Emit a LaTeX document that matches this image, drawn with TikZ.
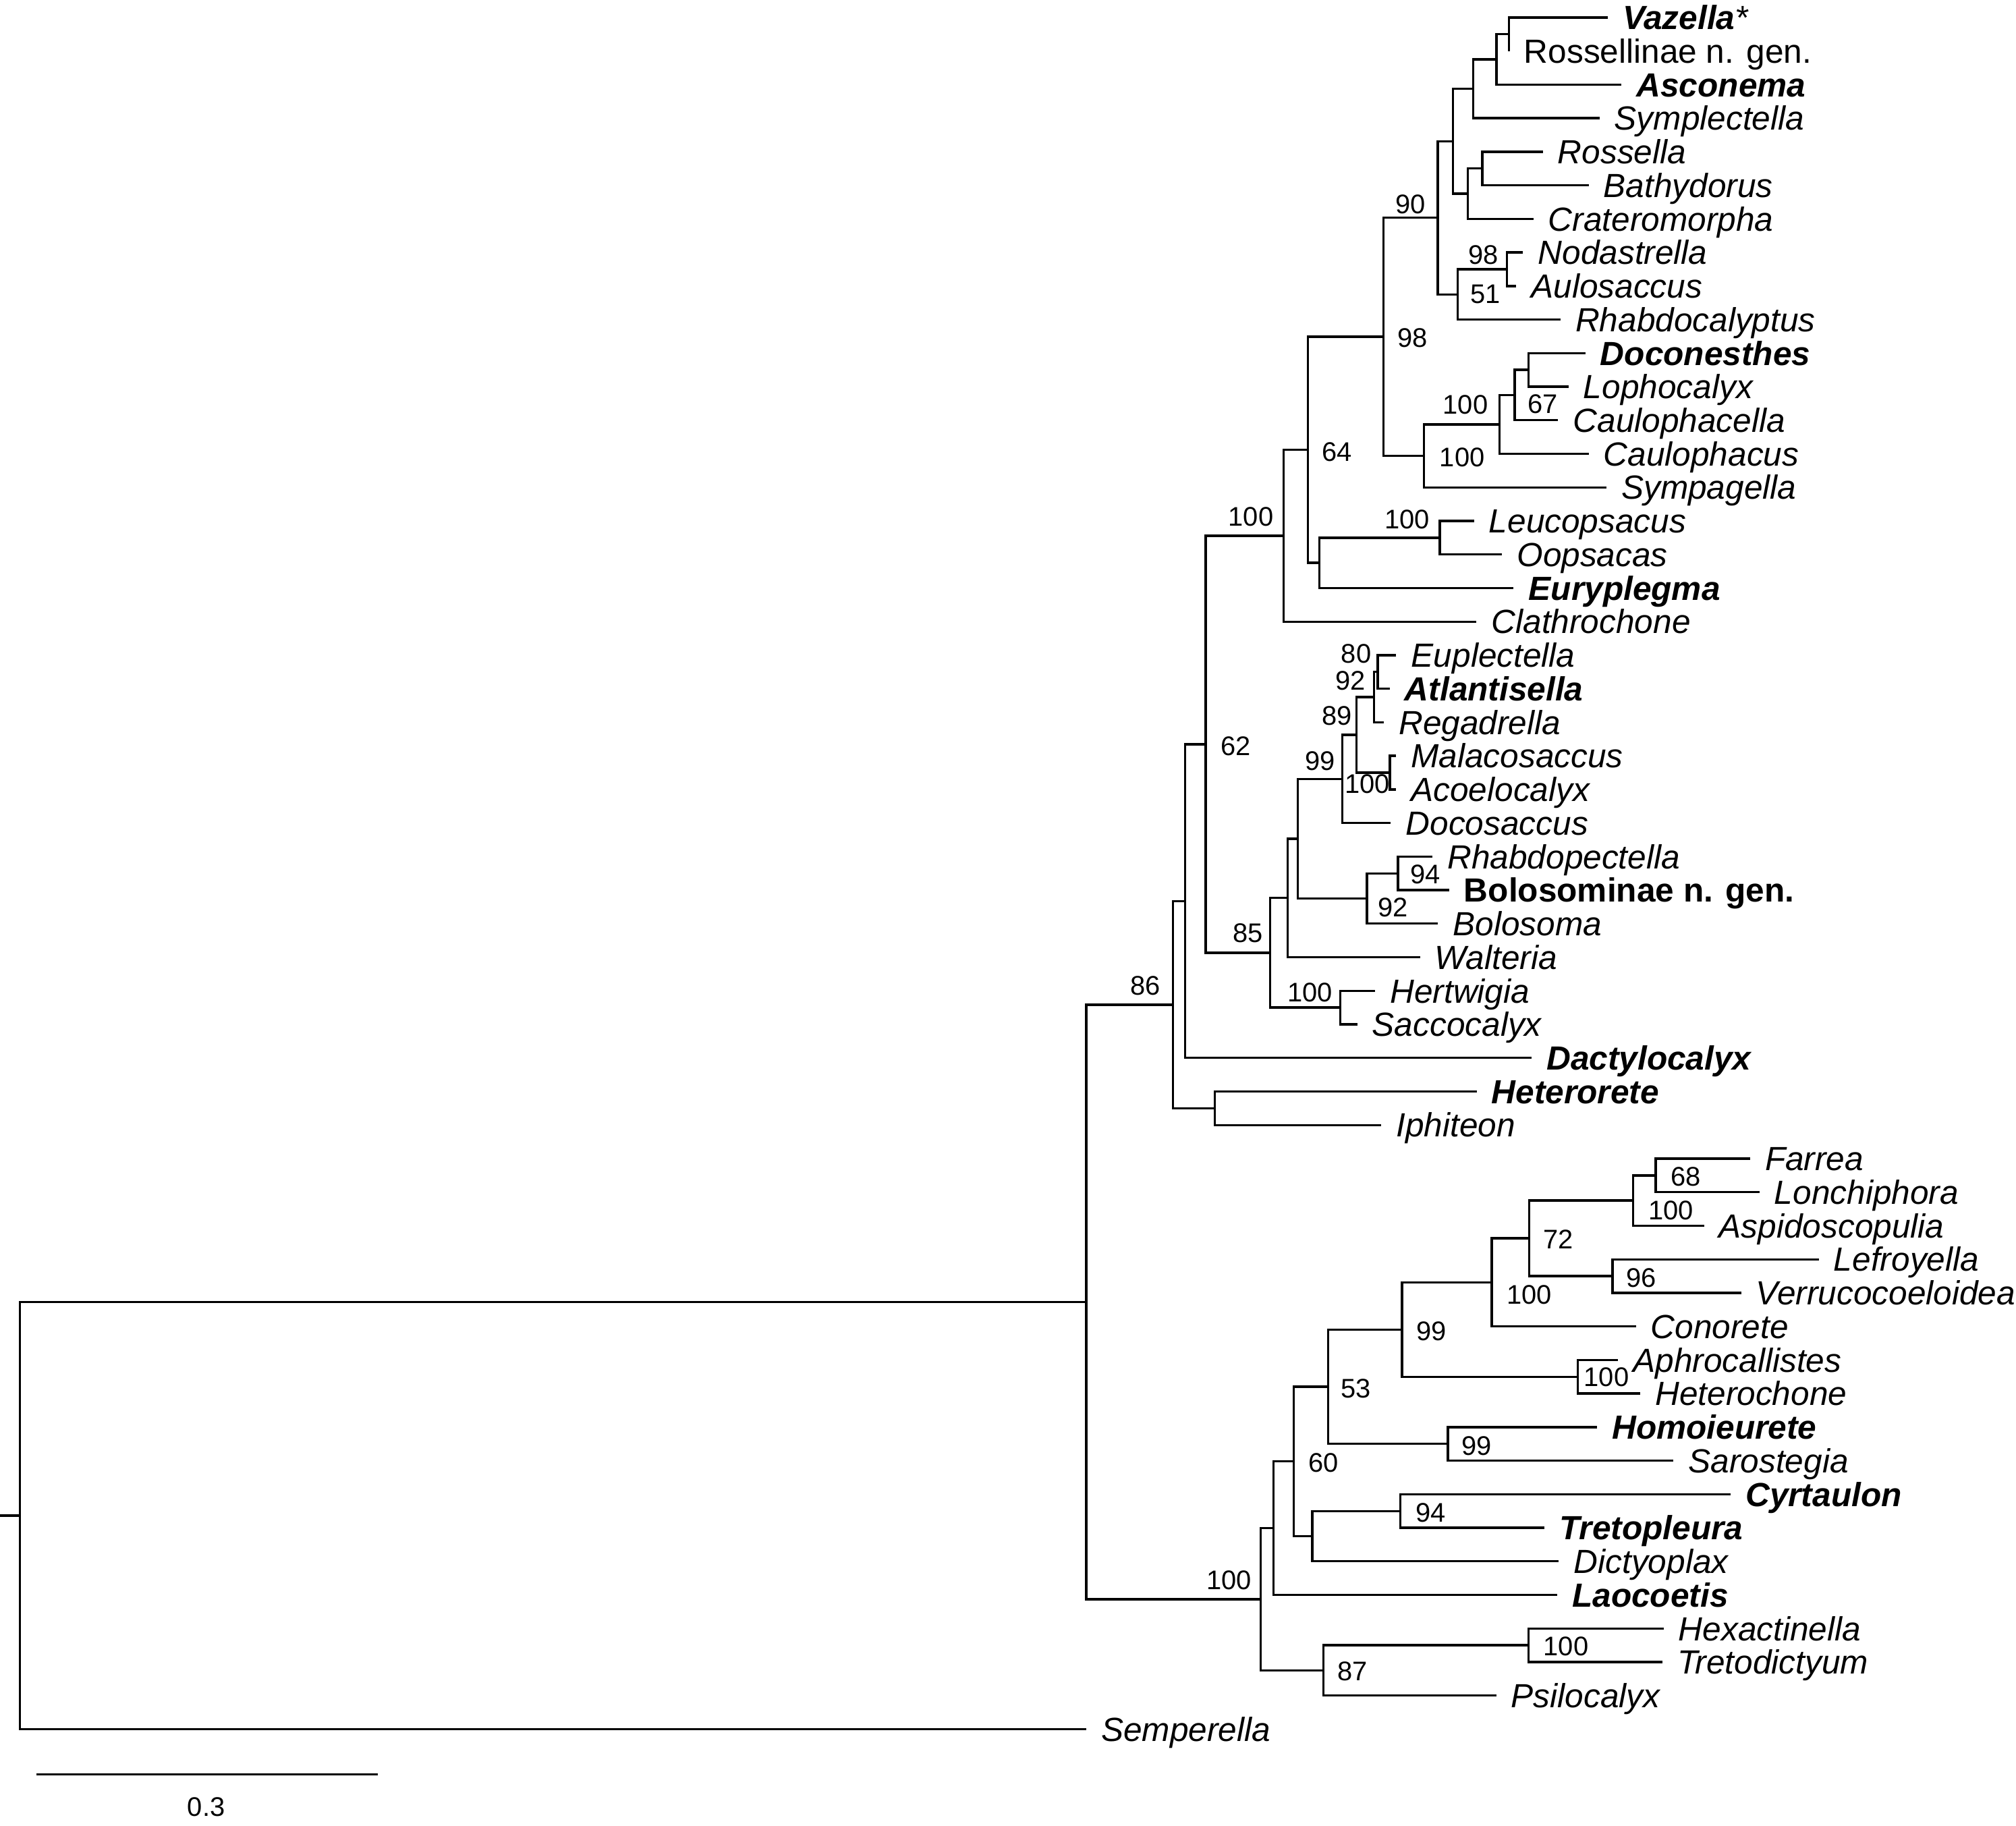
\documentclass[tikz,border=0pt]{standalone}
\usepackage{fontspec}
\setmainfont{Liberation Sans}
\usepackage{tikz}
\usetikzlibrary{positioning}

\begin{document}
\begin{tikzpicture}[
  x=0.01cm, y=-0.01cm,
  branch/.style={line width=0.5pt, line join=miter},
  tip/.style={inner sep=0pt, font=\fontsize{7.4}{8}\selectfont\itshape, text height=1.86mm, text depth=0pt},
  boot/.style={inner sep=0pt, font=\fontsize{5.95}{7}\selectfont, text height=1.5mm, text depth=0pt}
]
  \useasboundingbox (0,0) rectangle (1568,1420);

  % Tips
  \coordinate (vazella) at (1250.4,13.6);
  \coordinate (rossellinae) at (1173.7,39.7);
  \coordinate (asconema) at (1261.1,65.8);
  \coordinate (symplectella) at (1244.0,91.9);
  \coordinate (rossella) at (1199.9,118.0);
  \coordinate (bathydorus) at (1235.6,144.1);
  \coordinate (crateromorpha) at (1192.6,170.2);
  \coordinate (nodastrella) at (1184.6,196.3);
  \coordinate (aulosaccus) at (1179.2,222.4);
  \coordinate (rhabdocalyptus) at (1213.7,248.5);
  \coordinate (doconesthes) at (1233.0,274.6);
  \coordinate (lophocalyx) at (1219.9,300.7);
  \coordinate (caulophacella) at (1211.9,326.8);
  \coordinate (caulophacus) at (1235.6,352.9);
  \coordinate (sympagella) at (1249.4,379.0);
  \coordinate (leucopsacus) at (1146.4,405.1);
  \coordinate (oopsacas) at (1168.2,431.2);
  \coordinate (euryplegma) at (1177.3,457.3);
  \coordinate (clathrochone) at (1148.4,483.4);
  \coordinate (euplectella) at (1086.0,509.5);
  \coordinate (atlantisella) at (1080.8,535.6);
  \coordinate (regadrella) at (1076.3,561.7);
  \coordinate (malacosaccus) at (1085.8,587.8);
  \coordinate (acoelocalyx) at (1085.8,613.9);
  \coordinate (docosaccus) at (1081.8,640.0);
  \coordinate (rhabdopectella) at (1114.1,666.1);
  \coordinate (bolosominae) at (1127.0,692.2);
  \coordinate (bolosoma) at (1118.4,718.3);
  \coordinate (walteria) at (1104.4,744.4);
  \coordinate (hertwigia) at (1069.5,770.5);
  \coordinate (saccocalyx) at (1055.6,796.6);
  \coordinate (dactylocalyx) at (1191.2,822.7);
  \coordinate (heterorete) at (1148.5,848.8);
  \coordinate (iphiteon) at (1074.2,874.9);
  \coordinate (farrea) at (1361.1,901.0);
  \coordinate (lonchiphora) at (1368.4,927.1);
  \coordinate (aspidoscopulia) at (1325.3,953.2);
  \coordinate (lefroyella) at (1414.6,979.3);
  \coordinate (verrucocoeloidea) at (1354.2,1005.4);
  \coordinate (conorete) at (1272.3,1031.5);
  \coordinate (aphrocallistes) at (1258.5,1057.6);
  \coordinate (heterochone) at (1275.7,1083.7);
  \coordinate (homoieurete) at (1242.1,1109.8);
  \coordinate (sarostegia) at (1301.6,1135.9);
  \coordinate (cyrtaulon) at (1346.0,1162.0);
  \coordinate (tretopleura) at (1201.2,1188.1);
  \coordinate (dictyoplax) at (1212.4,1214.2);
  \coordinate (laocoetis) at (1211.1,1240.3);
  \coordinate (hexactinella) at (1293.9,1266.4);
  \coordinate (tretodictyum) at (1293.0,1292.5);
  \coordinate (psilocalyx) at (1163.7,1318.6);
  \coordinate (semperella) at (844.8,1344.7);

  % Internal nodes
  \coordinate (nVR) at (1173.7,26.65);
  \coordinate (nVRA) at (1163.9,46.2);
  \coordinate (nVRAS) at (1145.7,69.05);
  \coordinate (nRB) at (1152.9,131.05);
  \coordinate (nRBC) at (1141.6,150.6);
  \coordinate (nRos) at (1130.0,109.8);
  \coordinate (nNA) at (1171.9,209.35);
  \coordinate (nNAR) at (1133.6,228.9);
  \coordinate (n90) at (1118.3,169.35);
  \coordinate (nDL) at (1189.0,287.65);
  \coordinate (nDLC) at (1178.1,307.2);
  \coordinate (nDLCC) at (1166.4,330.05);
  \coordinate (nSymp) at (1107.4,354.5);
  \coordinate (n98) at (1076.1,261.9);
  \coordinate (nLO) at (1119.8,418.15);
  \coordinate (nLOE) at (1026.2,437.7);
  \coordinate (n64) at (1017.1,349.8);
  \coordinate (nClath) at (998.5,416.6);
  \coordinate (nEA) at (1071.6,522.55);
  \coordinate (nEAR) at (1068.6,542.1);
  \coordinate (nMA) at (1081.0,600.85);
  \coordinate (nEARMA) at (1055.0,571.5);
  \coordinate (nEup) at (1044.0,605.75);
  \coordinate (nRB2) at (1087.4,679.15);
  \coordinate (nBol) at (1063.2,698.7);
  \coordinate (nEuBo) at (1009.3,652.2);
  \coordinate (nEuW) at (1001.4,698.3);
  \coordinate (nHS) at (1042.6,783.55);
  \coordinate (n85) at (988.0,740.9);
  \coordinate (n62) at (937.8,578.75);
  \coordinate (nDact) at (921.6,700.7);
  \coordinate (nHI) at (945.0,861.85);
  \coordinate (nHexa) at (912.2,781.3);
  \coordinate (nFL) at (1287.8,914.05);
  \coordinate (nFLA) at (1270.1,933.6);
  \coordinate (nLV) at (1254.2,992.35);
  \coordinate (n72) at (1189.5,962.95);
  \coordinate (nCon) at (1160.2,997.2);
  \coordinate (nAH) at (1227.0,1070.65);
  \coordinate (n99) at (1090.4,1033.9);
  \coordinate (nHS2) at (1126.2,1122.85);
  \coordinate (n53) at (1033.1,1078.4);
  \coordinate (nCT) at (1089.1,1175.05);
  \coordinate (nCTD) at (1020.6,1194.6);
  \coordinate (n60) at (1006.3,1136.5);
  \coordinate (nLao) at (990.4,1188.4);
  \coordinate (nHT) at (1188.7,1279.45);
  \coordinate (n87) at (1029.2,1299.0);
  \coordinate (n100b) at (980.5,1243.7);
  \coordinate (n86) at (844.8,1012.5);
  \coordinate (root) at (15.4,1178.6);
  \coordinate (rootbase) at (0,1178.6);

  % Branches
  \draw[branch] (rootbase) -- (root);
  \draw[branch] (n86) -| (root) |- (semperella);
  \draw[branch] (nHexa) -| (n86) |- (n100b);
  \draw[branch] (nDact) -| (nHexa) |- (nHI);
  \draw[branch] (n62) -| (nDact) |- (dactylocalyx);
  \draw[branch] (heterorete) -| (nHI) |- (iphiteon);
  \draw[branch] (nClath) -| (n62) |- (n85);
  \draw[branch] (n64) -| (nClath) |- (clathrochone);
  \draw[branch] (n98) -| (n64) |- (nLOE);
  \draw[branch] (n90) -| (n98) |- (nSymp);
  \draw[branch] (nRos) -| (n90) |- (nNAR);
  \draw[branch] (nVRAS) -| (nRos) |- (nRBC);
  \draw[branch] (nVRA) -| (nVRAS) |- (symplectella);
  \draw[branch] (nVR) -| (nVRA) |- (asconema);
  \draw[branch] (vazella) -| (nVR) |- (rossellinae);
  \draw[branch] (nRB) -| (nRBC) |- (crateromorpha);
  \draw[branch] (rossella) -| (nRB) |- (bathydorus);
  \draw[branch] (nNA) -| (nNAR) |- (rhabdocalyptus);
  \draw[branch] (nodastrella) -| (nNA) |- (aulosaccus);
  \draw[branch] (nDLCC) -| (nSymp) |- (sympagella);
  \draw[branch] (nDLC) -| (nDLCC) |- (caulophacus);
  \draw[branch] (nDL) -| (nDLC) |- (caulophacella);
  \draw[branch] (doconesthes) -| (nDL) |- (lophocalyx);
  \draw[branch] (nLO) -| (nLOE) |- (euryplegma);
  \draw[branch] (leucopsacus) -| (nLO) |- (oopsacas);
  \draw[branch] (nEuW) -| (n85) |- (nHS);
  \draw[branch] (nEuBo) -| (nEuW) |- (walteria);
  \draw[branch] (nEup) -| (nEuBo) |- (nBol);
  \draw[branch] (nEARMA) -| (nEup) |- (docosaccus);
  \draw[branch] (nEAR) -| (nEARMA) |- (nMA);
  \draw[branch] (nEA) -| (nEAR) |- (regadrella);
  \draw[branch] (euplectella) -| (nEA) |- (atlantisella);
  \draw[branch] (malacosaccus) -| (nMA) |- (acoelocalyx);
  \draw[branch] (nRB2) -| (nBol) |- (bolosoma);
  \draw[branch] (rhabdopectella) -| (nRB2) |- (bolosominae);
  \draw[branch] (hertwigia) -| (nHS) |- (saccocalyx);
  \draw[branch] (nLao) -| (n100b) |- (n87);
  \draw[branch] (n60) -| (nLao) |- (laocoetis);
  \draw[branch] (n53) -| (n60) |- (nCTD);
  \draw[branch] (n99) -| (n53) |- (nHS2);
  \draw[branch] (nCon) -| (n99) |- (nAH);
  \draw[branch] (n72) -| (nCon) |- (conorete);
  \draw[branch] (nFLA) -| (n72) |- (nLV);
  \draw[branch] (nFL) -| (nFLA) |- (aspidoscopulia);
  \draw[branch] (farrea) -| (nFL) |- (lonchiphora);
  \draw[branch] (lefroyella) -| (nLV) |- (verrucocoeloidea);
  \draw[branch] (aphrocallistes) -| (nAH) |- (heterochone);
  \draw[branch] (homoieurete) -| (nHS2) |- (sarostegia);
  \draw[branch] (nCT) -| (nCTD) |- (dictyoplax);
  \draw[branch] (cyrtaulon) -| (nCT) |- (tretopleura);
  \draw[branch] (nHT) -| (n87) |- (psilocalyx);
  \draw[branch] (hexactinella) -| (nHT) |- (tretodictyum);

  % Taxon labels
  \node[tip, right=1.1mm of vazella] (lVazella) {\bfseries Vazella\mdseries*};
  \node[tip, right=1.1mm of rossellinae] (lRossellinae) {\upshape Rossellinae n. gen.};
  \node[tip, right=1.1mm of asconema] (lAsconema) {\bfseries Asconema};
  \node[tip, right=1.1mm of symplectella] (lSymplectella) {Symplectella};
  \node[tip, right=1.1mm of rossella] (lRossella) {Rossella};
  \node[tip, right=1.1mm of bathydorus] (lBathydorus) {Bathydorus};
  \node[tip, right=1.1mm of crateromorpha] (lCrateromorpha) {Crateromorpha};
  \node[tip, right=1.1mm of nodastrella] (lNodastrella) {Nodastrella};
  \node[tip, right=1.1mm of aulosaccus] (lAulosaccus) {Aulosaccus};
  \node[tip, right=1.1mm of rhabdocalyptus] (lRhabdocalyptus) {Rhabdocalyptus};
  \node[tip, right=1.1mm of doconesthes] (lDoconesthes) {\bfseries Doconesthes};
  \node[tip, right=1.1mm of lophocalyx] (lLophocalyx) {Lophocalyx};
  \node[tip, right=1.1mm of caulophacella] (lCaulophacella) {Caulophacella};
  \node[tip, right=1.1mm of caulophacus] (lCaulophacus) {Caulophacus};
  \node[tip, right=1.1mm of sympagella] (lSympagella) {Sympagella};
  \node[tip, right=1.1mm of leucopsacus] (lLeucopsacus) {Leucopsacus};
  \node[tip, right=1.1mm of oopsacas] (lOopsacas) {Oopsacas};
  \node[tip, right=1.1mm of euryplegma] (lEuryplegma) {\bfseries Euryplegma};
  \node[tip, right=1.1mm of clathrochone] (lClathrochone) {Clathrochone};
  \node[tip, right=1.1mm of euplectella] (lEuplectella) {Euplectella};
  \node[tip, right=1.1mm of atlantisella] (lAtlantisella) {\bfseries Atlantisella};
  \node[tip, right=1.1mm of regadrella] (lRegadrella) {Regadrella};
  \node[tip, right=1.1mm of malacosaccus] (lMalacosaccus) {Malacosaccus};
  \node[tip, right=1.1mm of acoelocalyx] (lAcoelocalyx) {Acoelocalyx};
  \node[tip, right=1.1mm of docosaccus] (lDocosaccus) {Docosaccus};
  \node[tip, right=1.1mm of rhabdopectella] (lRhabdopectella) {Rhabdopectella};
  \node[tip, right=1.1mm of bolosominae] (lBolosominae) {\upshape\bfseries Bolosominae n. gen.};
  \node[tip, right=1.1mm of bolosoma] (lBolosoma) {Bolosoma};
  \node[tip, right=1.1mm of walteria] (lWalteria) {Walteria};
  \node[tip, right=1.1mm of hertwigia] (lHertwigia) {Hertwigia};
  \node[tip, right=1.1mm of saccocalyx] (lSaccocalyx) {Saccocalyx};
  \node[tip, right=1.1mm of dactylocalyx] (lDactylocalyx) {\bfseries Dactylocalyx};
  \node[tip, right=1.1mm of heterorete] (lHeterorete) {\bfseries Heterorete};
  \node[tip, right=1.1mm of iphiteon] (lIphiteon) {Iphiteon};
  \node[tip, right=1.1mm of farrea] (lFarrea) {Farrea};
  \node[tip, right=1.1mm of lonchiphora] (lLonchiphora) {Lonchiphora};
  \node[tip, right=1.1mm of aspidoscopulia] (lAspidoscopulia) {Aspidoscopulia};
  \node[tip, right=1.1mm of lefroyella] (lLefroyella) {Lefroyella};
  \node[tip, right=1.1mm of verrucocoeloidea] (lVerrucocoeloidea) {Verrucocoeloidea};
  \node[tip, right=1.1mm of conorete] (lConorete) {Conorete};
  \node[tip, right=1.1mm of aphrocallistes] (lAphrocallistes) {Aphrocallistes};
  \node[tip, right=1.1mm of heterochone] (lHeterochone) {Heterochone};
  \node[tip, right=1.1mm of homoieurete] (lHomoieurete) {\bfseries Homoieurete};
  \node[tip, right=1.1mm of sarostegia] (lSarostegia) {Sarostegia};
  \node[tip, right=1.1mm of cyrtaulon] (lCyrtaulon) {\bfseries Cyrtaulon};
  \node[tip, right=1.1mm of tretopleura] (lTretopleura) {\bfseries Tretopleura};
  \node[tip, right=1.1mm of dictyoplax] (lDictyoplax) {Dictyoplax};
  \node[tip, right=1.1mm of laocoetis] (lLaocoetis) {\bfseries Laocoetis};
  \node[tip, right=1.1mm of hexactinella] (lHexactinella) {Hexactinella};
  \node[tip, right=1.1mm of tretodictyum] (lTretodictyum) {Tretodictyum};
  \node[tip, right=1.1mm of psilocalyx] (lPsilocalyx) {Psilocalyx};
  \node[tip, right=1.1mm of semperella] (lSemperella) {Semperella};

  % Bootstrap support
  \node[boot] (b90) at (1097.2,158.7) {90};
  \node[boot] (b98a) at (1153.7,197.7) {98};
  \node[boot] (b51) at (1155.5,228.3) {51};
  \node[boot] (b98b) at (1098.7,262.4) {98};
  \node[boot] (b100a) at (1139.8,314.3) {100};
  \node[boot] (b67) at (1199.9,314.0) {67};
  \node[boot] (b100b) at (1137.3,355.1) {100};
  \node[boot] (b64) at (1039.7,351.1) {64};
  \node[boot] (b100c) at (1094.3,403.6) {100};
  \node[boot] (b100d) at (972.9,401.4) {100};
  \node[boot] (b80) at (1054.8,508.2) {80};
  \node[boot] (b92a) at (1050.4,529.1) {92};
  \node[boot] (b89) at (1039.9,556.3) {89};
  \node[boot] (b62) at (961.1,580.2) {62};
  \node[boot] (b99a) at (1026.6,591.6) {99};
  \node[boot] (b100e) at (1063.5,609.6) {100};
  \node[boot] (b94a) at (1108.5,679.6) {94};
  \node[boot] (b92b) at (1083.5,705.3) {92};
  \node[boot] (b85) at (970.6,725.3) {85};
  \node[boot] (b86) at (890.7,766.1) {86};
  \node[boot] (b100f) at (1018.9,771.4) {100};
  \node[boot] (b68) at (1311.1,914.8) {68};
  \node[boot] (b100g) at (1299.5,941.1) {100};
  \node[boot] (b72) at (1211.9,963.8) {72};
  \node[boot] (b96) at (1276.6,993.6) {96};
  \node[boot] (b100h) at (1189.5,1006.7) {100};
  \node[boot] (b99b) at (1113.2,1034.7) {99};
  \node[boot] (b100i) at (1249.5,1070.5) {100};
  \node[boot] (b53) at (1054.6,1079.3) {53};
  \node[boot] (b99c) at (1148.6,1124.0) {99};
  \node[boot] (b60) at (1029.2,1137.5) {60};
  \node[boot] (b94b) at (1112.8,1176.1) {94};
  \node[boot] (b100j) at (955.9,1228.6) {100};
  \node[boot] (b100k) at (1218.0,1279.8) {100};
  \node[boot] (b87) at (1052.0,1299.4) {87};

  % Scale bar
  \coordinate (sbleft) at (28.4,1379.9);
  \coordinate (sbright) at (294.1,1379.9);
  \draw[branch] (sbleft) -- (sbright);
  \node[boot] (sblabel) at (160.4,1404.8) {0.3};

\end{tikzpicture}
\end{document}
